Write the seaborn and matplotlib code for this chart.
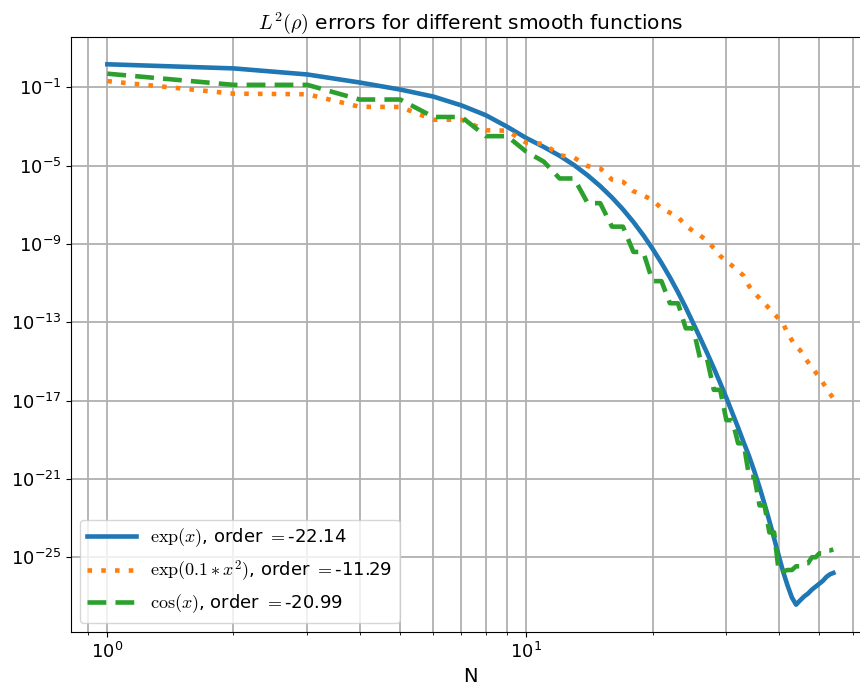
import numpy as np
import pandas as pd
import seaborn as sns
import matplotlib.pyplot as plt

plt.rcParams["mathtext.fontset"] = "cm"
plt.rcParams["font.family"] = ["DejaVu Sans"]

# number of basis functions
N = list(range(1, 55))

# log10 of the L2 error
log_err_exp = [
    0.17, -0.04, -0.35, -0.76, -1.12, -1.48, -1.93, -2.43, -3.02, -3.6,
    -4.05, -4.5, -4.98, -5.5, -6.05, -6.63, -7.24, -7.88, -8.55, -9.25,
    -9.97, -10.71, -11.47, -12.25, -13.05, -13.82, -14.58, -15.34, -16.1, -16.86,
    -17.63, -18.38, -19.14, -19.85, -20.62, -21.43, -22.28, -23.15, -24.03, -24.92,
    -25.75, -26.45, -27.05, -27.42, -27.2, -27.0, -26.85, -26.65, -26.5, -26.35,
    -26.2, -26.0, -25.87, -25.8,
]
log_err_gauss = [
    -0.69, -1.33, -1.36, -2.0, -2.01, -2.66, -2.66, -3.2, -3.22, -3.84,
    -3.89, -4.47, -4.6, -5.03, -5.14, -5.72, -5.83, -6.31, -6.52, -6.77,
    -7.18, -7.41, -7.62, -8.07, -8.35, -8.58, -8.84, -9.22, -9.61, -9.89,
    -10.12, -10.37, -10.63, -11.16, -11.5, -11.78, -12.03, -12.31, -12.57, -12.82,
    -13.08, -13.56, -13.92, -14.25, -14.43, -14.76, -15.04, -15.3, -15.56, -15.81,
    -16.09, -16.37, -16.65, -16.88,
]
log_err_cos = [
    -0.31, -0.88, -0.88, -1.63, -1.63, -2.52, -2.52, -3.5, -3.5, -4.3,
    -4.8, -5.66, -5.66, -6.92, -6.92, -8.12, -8.12, -9.41, -9.41, -10.9,
    -10.9, -12.03, -12.03, -13.31, -13.31, -14.9, -14.9, -16.45, -16.45, -18.0,
    -18.0, -19.18, -19.18, -20.9, -20.9, -22.35, -22.35, -23.73, -23.73, -25.72,
    -25.72, -25.65, -25.65, -25.46, -25.46, -25.3, -25.3, -25.0, -25.0, -24.8,
    -24.8, -24.65, -24.65, -24.6,
]

labels = [
    r"$\exp(x)$, order $=$-22.14",
    r"$\exp(0.1*x^2)$, order $=$-11.29",
    r"$\cos(x)$, order $=$-20.99",
]
colors = ["#1f77b4", "#ff7f0e", "#2ca02c"]

frames = []
for lab, vals in zip(labels, [log_err_exp, log_err_gauss, log_err_cos]):
    frames.append(pd.DataFrame({"N": N, "err": 10.0 ** np.array(vals), "func": lab}))
df = pd.concat(frames, ignore_index=True)

fig = plt.figure(figsize=(8.6, 6.9), dpi=100)
ax = fig.add_axes([0.0826, 0.0845, 0.9286, 0.8615])

sns.lineplot(
    data=df,
    x="N",
    y="err",
    hue="func",
    style="func",
    palette=colors,
    dashes={labels[0]: "", labels[1]: (1, 2.0), labels[2]: (4.1, 2.0)},
    linewidth=3.3,
    ax=ax,
)

ax.set_xscale("log")
ax.set_yscale("log")
ax.yaxis.set_minor_locator(plt.NullLocator())
ax.grid(True, which="major", color="#b0b0b0", linewidth=1.3)
ax.xaxis.grid(True, which="minor", color="#b0b0b0", linewidth=1.3)
ax.set_axisbelow(True)

ax.set_title(r"$L^2(\rho)$ errors for different smooth functions", fontsize=14.5)
ax.set_xlabel("N", fontsize=14)
ax.set_ylabel("")
ax.tick_params(labelsize=13)

sns.move_legend(ax, "lower left", title=None, fontsize=13, handlelength=2.7)

plt.savefig("out.png", dpi=100)
